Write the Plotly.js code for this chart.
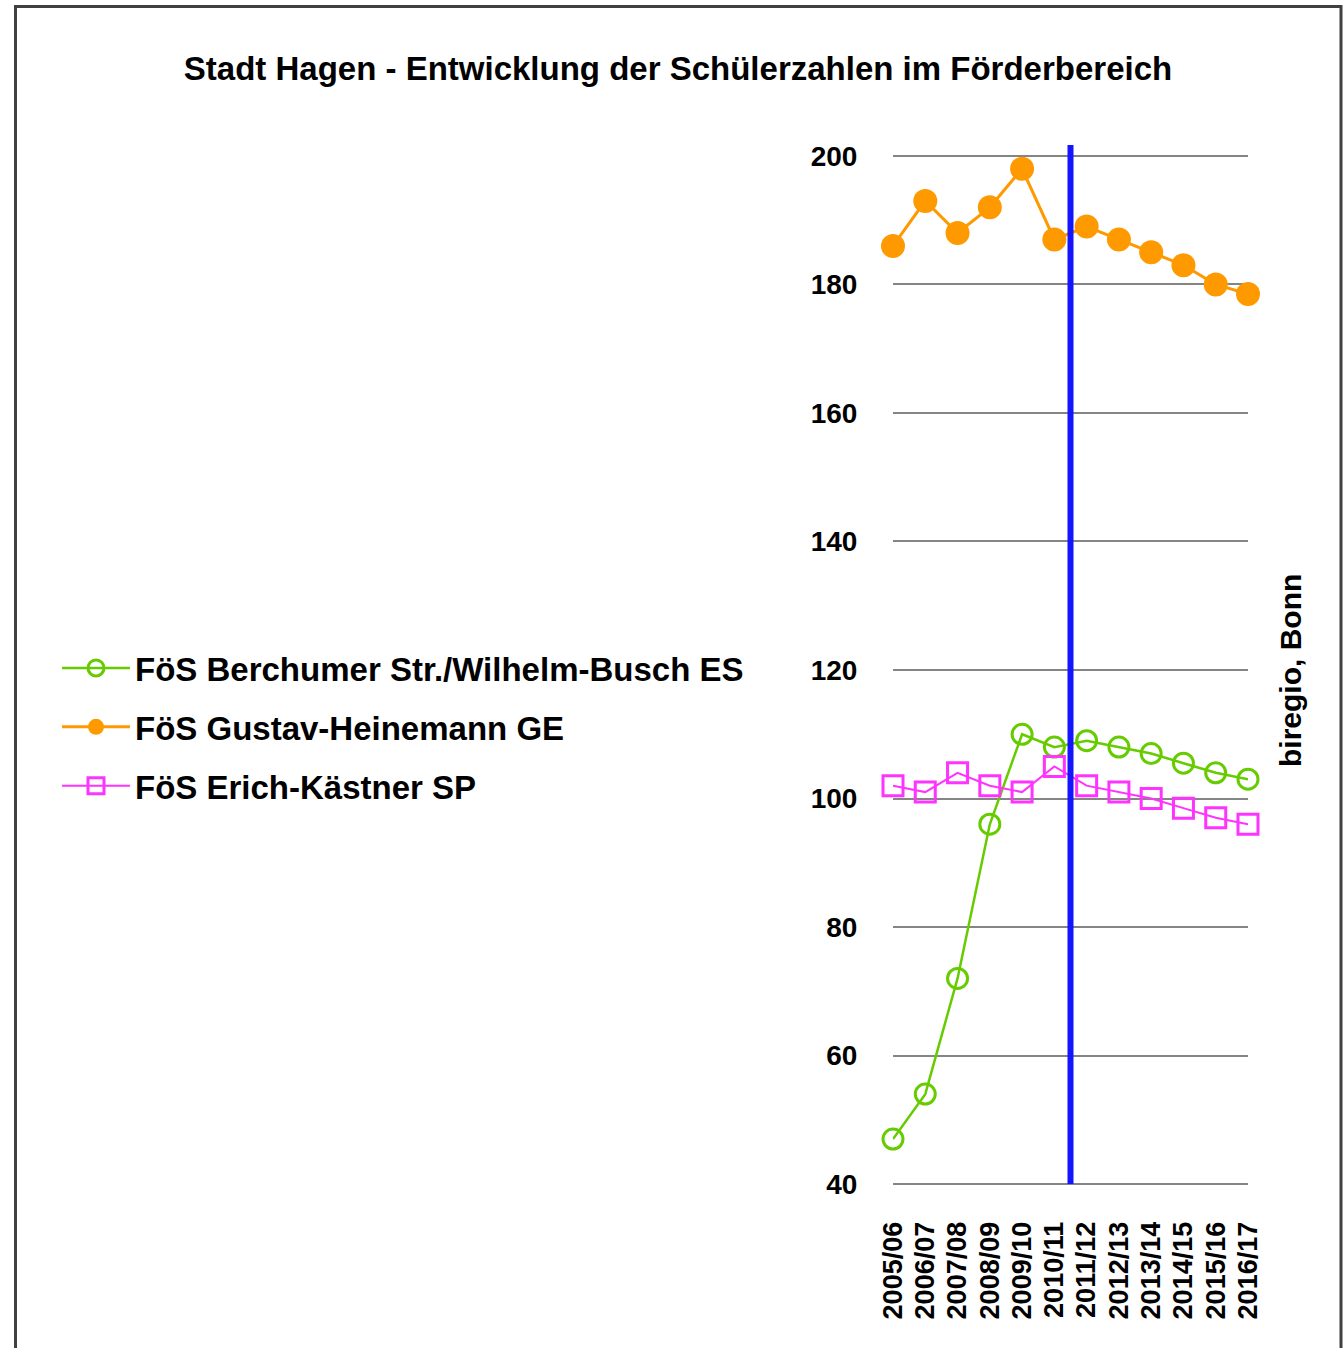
<!DOCTYPE html>
<html>
<head>
<meta charset="utf-8">
<script src="https://cdn.plot.ly/plotly-3.0.1.min.js"></script>
<style>
html,body{margin:0;padding:0;background:#fff;}
#chart{width:1343px;height:1348px;}
</style>
</head>
<body>
<div id="chart"></div>
<script>
// ---- data ----
const schoolYears = ['2005/06','2006/07','2007/08','2008/09','2009/10','2010/11','2011/12','2012/13','2013/14','2014/15','2015/16','2016/17'];
const berchumer = [47, 54, 72, 96, 110, 108, 109, 108, 107, 105.5, 104, 103];
const heinemann = [186, 193, 188, 192, 198, 187, 189, 187, 185, 183, 180, 178.5];
const kaestner = [102, 101, 104, 102, 101, 105, 102, 101, 100, 98.5, 97, 96];
const seriesNames = ['FöS Berchumer Str./Wilhelm-Busch ES', 'FöS Gustav-Heinemann GE', 'FöS Erich-Kästner SP'];
const yTicks = [40, 60, 80, 100, 120, 140, 160, 180, 200];
const markerPosition = 5.5; // between 2010/11 and 2011/12
const titleText = 'Stadt Hagen - Entwicklung der Schülerzahlen im Förderbereich';
const sourceText = 'biregio, Bonn';

// ---- layout geometry (pixels) ----
const W = 1343, H = 1348;
const plotL = 893, plotR = 1248, plotT = 154, plotB = 1186;
const pw = plotR - plotL, ph = plotB - plotT;
const px2x = p => (p - plotL) / pw;
const px2y = p => (plotB - p) / ph;

const FONT = 'Liberation Sans, Arial, Helvetica, sans-serif';

const traces = [
  {
    x: schoolYears, y: berchumer, name: seriesNames[0], legendgroup: 'g1', type: 'scatter', mode: 'lines+markers',
    line: {color: '#66cc00', width: 2.5},
    marker: {symbol: 'circle-open', size: 20, color: '#66cc00', line: {width: 3, color: '#66cc00'}},
    cliponaxis: false
  },
  {
    x: schoolYears, y: heinemann, name: seriesNames[1], legendgroup: 'g2', type: 'scatter', mode: 'lines+markers',
    line: {color: '#ff9900', width: 3},
    marker: {symbol: 'circle', size: 24, color: '#ff9900'},
    cliponaxis: false
  },
  {
    x: schoolYears, y: kaestner, name: seriesNames[2], legendgroup: 'g3', type: 'scatter', mode: 'lines+markers',
    line: {color: '#ff33ff', width: 2},
    marker: {symbol: 'square-open', size: 20, color: '#ff33ff', line: {width: 3, color: '#ff33ff'}},
    cliponaxis: false
  }
];

const layout = {
  width: W, height: H,
  margin: {l: plotL, r: W - plotR, t: plotT, b: H - plotB, pad: 0},
  paper_bgcolor: '#ffffff', plot_bgcolor: '#ffffff',
  font: {family: FONT, color: '#000000', weight: 'bold'},
  title: {
    text: titleText, xref: 'container', yref: 'container',
    x: 678 / W, xanchor: 'center', y: 1 - 68 / H, yanchor: 'middle',
    font: {family: FONT, size: 33, weight: 'bold', color: '#000'}
  },
  xaxis: {
    type: 'category', range: [0, schoolYears.length - 1],
    showgrid: false, zeroline: false, showline: false,
    ticks: 'outside', ticklen: 24, tickcolor: 'rgba(0,0,0,0)',
    tickangle: -90, tickfont: {family: FONT, size: 27, weight: 'bold', color: '#000'},
    fixedrange: true
  },
  yaxis: {
    range: [39.7, 200.3], tickvals: yTicks, ticktext: yTicks.map(String),
    showgrid: true, gridcolor: '#858585', gridwidth: 2,
    zeroline: false, showline: false,
    ticks: 'outside', ticklen: 29, tickcolor: 'rgba(0,0,0,0)',
    tickfont: {family: FONT, size: 28, weight: 'bold', color: '#000'},
    fixedrange: true
  },
  showlegend: true,
  legend: {
    xref: 'container', yref: 'container',
    x: 57 / W, xanchor: 'left', y: 1 - 727 / H, yanchor: 'middle',
    font: {family: FONT, size: 33, weight: 'bold', color: '#000'},
    bgcolor: 'rgba(0,0,0,0)', borderwidth: 0, tracegroupgap: 13,
    itemwidth: 68
  },
  shapes: [
    {
      type: 'line', xref: 'paper', yref: 'paper',
      x0: markerPosition / (schoolYears.length - 1), x1: markerPosition / (schoolYears.length - 1),
      y0: px2y(1184), y1: px2y(145),
      line: {color: '#1414ff', width: 6}, layer: 'above'
    },
    {
      type: 'rect', xref: 'paper', yref: 'paper',
      x0: px2x(15.5), x1: px2x(1341), y0: px2y(6.5), y1: px2y(1400),
      line: {color: '#404040', width: 3}, fillcolor: 'rgba(0,0,0,0)'
    }
  ],
  annotations: [
    {
      text: sourceText, xref: 'paper', yref: 'paper',
      x: px2x(1290), y: px2y(671), xanchor: 'center', yanchor: 'middle',
      textangle: -90, showarrow: false,
      font: {family: FONT, size: 30, weight: 'bold', color: '#000'}
    }
  ]
};

Plotly.newPlot('chart', traces, layout, {displayModeBar: false, staticPlot: true});
</script>
</body>
</html>
